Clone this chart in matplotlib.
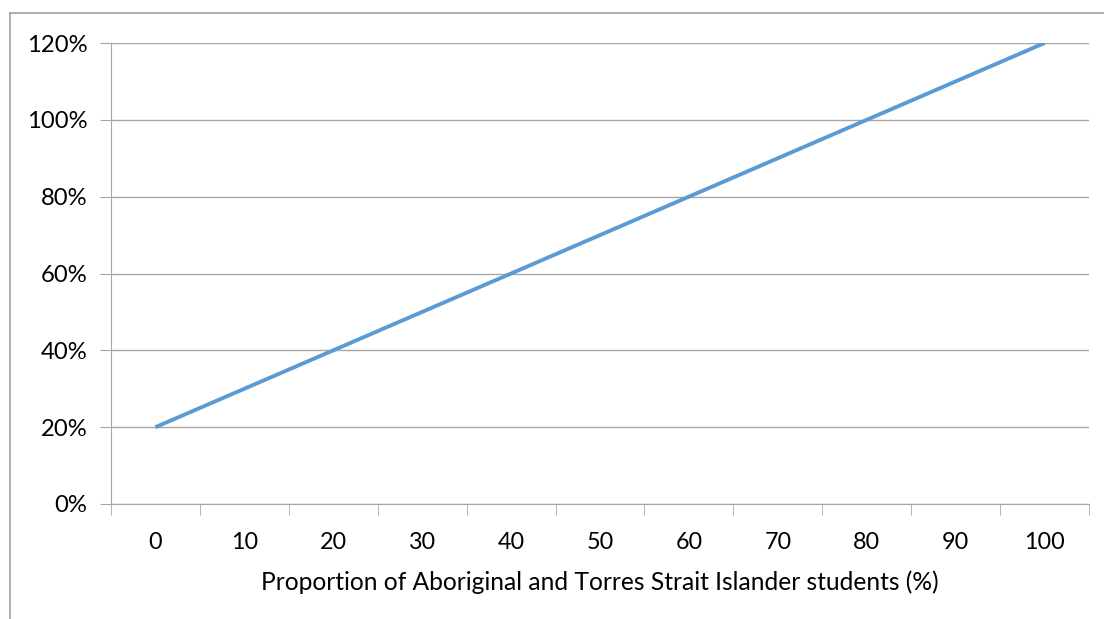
import matplotlib.pyplot as plt
from matplotlib.lines import Line2D
from matplotlib.ticker import FixedLocator, PercentFormatter

# Share of Aboriginal and Torres Strait Islander students vs. value
categories = ["0", "10", "20", "30", "40", "50", "60", "70", "80", "90", "100"]
values = [20, 30, 40, 50, 60, 70, 80, 90, 100, 110, 120]
y_ticks = [0, 20, 40, 60, 80, 100, 120]

plt.rcParams["font.family"] = ["Lato", "DejaVu Sans"]
grid_col = "#a6a6a6"
fs = 16.8

fig = plt.figure(figsize=(11.04, 6.19), dpi=100)
ax = fig.add_axes([111 / 1104, 1 - 504 / 619, 978 / 1104, 461 / 619])

x = list(range(len(categories)))
ax.plot(x, values, color="#5b9bd5", lw=2.8, solid_capstyle="butt", zorder=3)

ax.set_xlim(-0.5, len(categories) - 0.5)
ax.set_ylim(0, 120)
ax.set_yticks(y_ticks)
ax.yaxis.set_major_formatter(PercentFormatter(decimals=0))
ax.set_xticks(x)
ax.set_xticklabels(categories)
ax.xaxis.set_minor_locator(FixedLocator([i - 0.5 for i in range(len(categories) + 1)]))

ax.grid(axis="y", color=grid_col, lw=1)
ax.set_axisbelow(True)
for s in ("top", "right"):
    ax.spines[s].set_visible(False)
for s in ("left", "bottom"):
    ax.spines[s].set_color(grid_col)
ax.tick_params(axis="y", length=8, color=grid_col, labelsize=fs + 0.4, pad=9)
ax.tick_params(axis="x", which="major", length=0, labelsize=fs, pad=20)
ax.tick_params(axis="x", which="minor", length=8, color=grid_col)

ax.set_xlabel("Proportion of Aboriginal and Torres Strait Islander students (%)",
              fontsize=17.7, labelpad=13)

# chart frame (left and top edges)
fig.add_artist(Line2D([10 / 1104, 10 / 1104], [0, 1 - 13 / 619], color="#a0a0a0", lw=1.2))
fig.add_artist(Line2D([10 / 1104, 1], [1 - 13 / 619, 1 - 13 / 619], color="#a0a0a0", lw=1.2))

fig.savefig("out.png", dpi=100)
